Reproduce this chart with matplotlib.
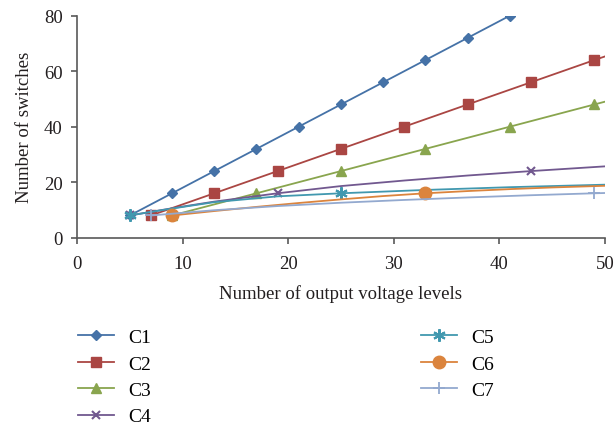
import matplotlib
matplotlib.use('Agg')
import matplotlib.pyplot as plt

# values (x = output voltage levels, y = switches)
names = ['C1', 'C2', 'C3', 'C4', 'C5', 'C6', 'C7']
colors = ['#4572A7', '#AA4643', '#89A54E', '#71588F', '#4198AF', '#DB843D', '#93A9CF']

c1_x = [5, 9, 13, 17, 21, 25, 29, 33, 37, 41]
c1_y = [8, 16, 24, 32, 40, 48, 56, 64, 72, 80]
c2_x = [7, 13, 19, 25, 31, 37, 43, 49, 50]
c2_y = [8, 16, 24, 32, 40, 48, 56, 64, 65.3]
c3_x = [9, 17, 25, 33, 41, 49, 50]
c3_y = [8, 16, 24, 32, 40, 48, 49]
c4_x = [5, 9, 13, 19, 25, 31, 37, 43, 50]
c4_y = [8, 10.6, 13.0, 16, 18.6, 20.6, 22.4, 24, 25.7]
c5_x = [5, 7, 9, 13, 19, 25, 33, 41, 50]
c5_y = [8, 9.3, 10.5, 12.8, 14.9, 16, 17.2, 18.2, 19.1]
c6_x = [9, 13, 17, 21, 25, 29, 33, 37, 41, 45, 50]
c6_y = [8, 9.6, 11.1, 12.5, 13.8, 15.0, 16, 16.8, 17.5, 18.1, 18.7]
c7_x = [7, 13, 19, 25, 31, 37, 43, 49, 50]
c7_y = [8, 9.9, 11.4, 12.6, 13.6, 14.5, 15.3, 16, 16.1]

# which points carry a marker
c1_mk = list(range(10))
c2_mk = list(range(8))
c3_mk = list(range(6))
c4_mk = [0, 3, 7]
c5_mk = [0, 5]
c6_mk = [0, 6]
c7_mk = [0, 7]

plt.rcParams['font.family'] = ['Liberation Serif', 'DejaVu Serif']
plt.rcParams['font.size'] = 13.5

fig = plt.figure(figsize=(6.16, 4.27), dpi=100)
ax = fig.add_axes([0.125, 0.441, 0.857, 0.520])

series = [
    (c1_x, c1_y, c1_mk, 'D', 5, 1),
    (c2_x, c2_y, c2_mk, 's', 7, 1),
    (c3_x, c3_y, c3_mk, '^', 7, 1),
    (c4_x, c4_y, c4_mk, 'x', 6, 1.5),
    (c5_x, c5_y, c5_mk, (6, 2, 0), 9, 1.5),
    (c6_x, c6_y, c6_mk, 'o', 9, 1),
    (c7_x, c7_y, c7_mk, '+', 8, 1.3),
]
for (xs, ys, mk, m, ms, mew), name, col in zip(series, names, colors):
    ax.plot(xs, ys, color=col, lw=1.3, marker=m, markersize=ms, markevery=mk,
            markeredgewidth=mew, markeredgecolor=col, markerfacecolor=col, label=name)

ax.set_xlim(0, 50)
ax.set_ylim(0, 80)
ax.set_xticks([0, 10, 20, 30, 40, 50])
ax.set_yticks([0, 20, 40, 60, 80])
for s in ['top', 'right']:
    ax.spines[s].set_visible(False)
for s in ['left', 'bottom']:
    ax.spines[s].set_color('#595959')
    ax.spines[s].set_linewidth(1.2)
ax.tick_params(direction='out', length=4.3, width=1.2, color='#595959', labelcolor='#231f20')
ax.tick_params(axis='x', pad=8)
ax.tick_params(axis='y', pad=6)
ax.set_xlabel('Number of output voltage levels', fontsize=13.5, color='#231f20', labelpad=9)
ax.set_ylabel('Number of switches', fontsize=13.5, color='#231f20', labelpad=8)

fig.legend(loc='upper left', bbox_to_anchor=(0.0985, 0.269), ncol=2, frameon=False,
           fontsize=14, handlelength=1.85, columnspacing=13.9, labelspacing=0.45,
           handletextpad=0.72)

fig.savefig('out.png', dpi=100)
